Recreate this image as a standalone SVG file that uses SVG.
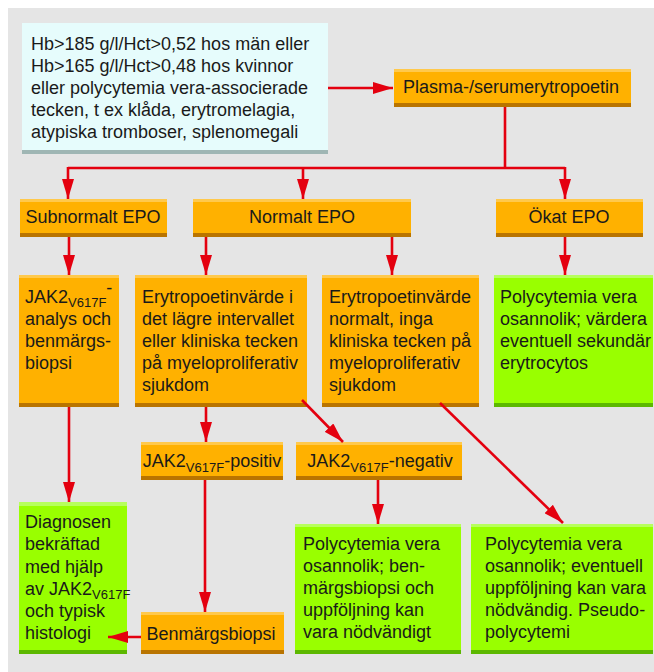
<svg xmlns="http://www.w3.org/2000/svg" width="654" height="672" viewBox="0 0 654 672">
<defs>
<style>
text{font-family:"Liberation Sans",Arial,sans-serif;font-size:18px;fill:#1a1a1a}
.c{text-anchor:middle}
.sub{font-size:13px}
.o{fill:#ffb100}.ot{fill:#ffc94c}.ob{fill:#b97400}
.g{fill:#99ff00}.gt{fill:#b6ff5c}.gb{fill:#5cb800}
.w{fill:#e6fcfc}.wb{fill:#9fb6b4}
.ln{stroke:#e4000f;stroke-width:2.6;fill:none}
.ar{marker-end:url(#ah)}
</style>
<marker id="ah" markerUnits="userSpaceOnUse" markerWidth="20" markerHeight="12" refX="20" refY="6" orient="auto">
<path d="M0,0 L20,6 L0,12 z" fill="#e4000f"/>
</marker>
</defs>
<rect x="0" y="0" width="654" height="672" fill="#ffffff"/>
<rect x="8" y="8" width="646" height="664" fill="#e5e5e5"/>

<g id="n-criteria">
<rect class="w" x="22" y="23" width="306" height="131"/>
<rect class="wb" x="22" y="150" width="306" height="4"/>
<text x="31" y="50">Hb&gt;185 g/l/Hct&gt;0,52 hos män eller</text>
<text x="31" y="72">Hb&gt;165 g/l/Hct&gt;0,48 hos kvinnor</text>
<text x="31" y="94">eller polycytemia vera-associerade</text>
<text x="31" y="116">tecken, t ex klåda, erytromelagia,</text>
<text x="31" y="138">atypiska tromboser, splenomegali</text>
</g>

<g id="n-plasma">
<rect class="o" x="394" y="69" width="237" height="38"/>
<rect class="ot" x="394" y="69" width="237" height="3"/>
<rect class="ob" x="394" y="103" width="237" height="4"/>
<text class="c" x="511" y="93">Plasma-/serumerytropoetin</text>
</g>

<g id="n-subnormalt">
<rect class="o" x="20" y="199" width="147" height="38"/>
<rect class="ot" x="20" y="199" width="147" height="3"/>
<rect class="ob" x="20" y="233" width="147" height="4"/>
<text class="c" x="93" y="223">Subnormalt EPO</text>
</g>

<g id="n-normalt">
<rect class="o" x="193" y="199" width="218" height="38"/>
<rect class="ot" x="193" y="199" width="218" height="3"/>
<rect class="ob" x="193" y="233" width="218" height="4"/>
<text class="c" x="302" y="223">Normalt EPO</text>
</g>

<g id="n-okat">
<rect class="o" x="496" y="199" width="147" height="38"/>
<rect class="ot" x="496" y="199" width="147" height="3"/>
<rect class="ob" x="496" y="233" width="147" height="4"/>
<text class="c" x="569" y="223">Ökat EPO</text>
</g>

<g id="n-jak2analys">
<rect class="o" x="19" y="275" width="100" height="132"/>
<rect class="ot" x="19" y="275" width="100" height="3"/>
<rect class="ob" x="19" y="403" width="100" height="4"/>
<text x="25" y="303">JAK2<tspan class="sub" dy="4">V617F</tspan><tspan dy="-13">-</tspan></text>
<text x="25" y="325">analys och</text>
<text x="25" y="347">benmärgs-</text>
<text x="25" y="369">biopsi</text>
</g>

<g id="n-lagre">
<rect class="o" x="135" y="275" width="172" height="132"/>
<rect class="ot" x="135" y="275" width="172" height="3"/>
<rect class="ob" x="135" y="403" width="172" height="4"/>
<text x="142" y="303">Erytropoetinvärde i</text>
<text x="142" y="325">det lägre intervallet</text>
<text x="142" y="347">eller kliniska tecken</text>
<text x="142" y="369">på myeloproliferativ</text>
<text x="142" y="391">sjukdom</text>
</g>

<g id="n-normalt-inga">
<rect class="o" x="322" y="275" width="157" height="132"/>
<rect class="ot" x="322" y="275" width="157" height="3"/>
<rect class="ob" x="322" y="403" width="157" height="4"/>
<text x="329" y="303">Erytropoetinvärde</text>
<text x="329" y="325">normalt, inga</text>
<text x="329" y="347">kliniska tecken på</text>
<text x="329" y="369">myeloproliferativ</text>
<text x="329" y="391">sjukdom</text>
</g>

<g id="n-sekundar">
<rect class="g" x="494" y="275" width="159" height="132"/>
<rect class="gt" x="494" y="275" width="159" height="3"/>
<rect class="gb" x="494" y="403" width="159" height="4"/>
<text x="500" y="303">Polycytemia vera</text>
<text x="500" y="325">osannolik; värdera</text>
<text x="500" y="347">eventuell sekundär</text>
<text x="500" y="369">erytrocytos</text>
</g>

<g id="n-positiv">
<rect class="o" x="141" y="442" width="142" height="38"/>
<rect class="ot" x="141" y="442" width="142" height="3"/>
<rect class="ob" x="141" y="476" width="142" height="4"/>
<text class="c" x="212" y="467">JAK2<tspan class="sub" dy="5">V617F</tspan><tspan dy="-5">-positiv</tspan></text>
</g>

<g id="n-negativ">
<rect class="o" x="296" y="442" width="166" height="38"/>
<rect class="ot" x="296" y="442" width="166" height="3"/>
<rect class="ob" x="296" y="476" width="166" height="4"/>
<text class="c" x="380" y="467">JAK2<tspan class="sub" dy="5">V617F</tspan><tspan dy="-5">-negativ</tspan></text>
</g>

<g id="n-diagnosen">
<rect class="g" x="19" y="502" width="108" height="152"/>
<rect class="gt" x="19" y="502" width="108" height="4"/>
<rect class="gb" x="19" y="650" width="108" height="4"/>
<text x="25" y="528">Diagnosen</text>
<text x="25" y="550">bekräftad</text>
<text x="25" y="573">med hjälp</text>
<text x="25" y="595">av JAK2<tspan class="sub" dy="4">V617F</tspan></text>
<text x="25" y="617">och typisk</text>
<text x="25" y="639">histologi</text>
</g>

<g id="n-benmargsbiopsi">
<rect class="o" x="141" y="612" width="143" height="42"/>
<rect class="ot" x="141" y="612" width="143" height="3"/>
<rect class="ob" x="141" y="650" width="143" height="4"/>
<text class="c" x="211" y="640">Benmärgsbiopsi</text>
</g>

<g id="n-benmarg-uppf">
<rect class="g" x="295" y="524" width="166" height="130"/>
<rect class="gt" x="295" y="524" width="166" height="3"/>
<rect class="gb" x="295" y="650" width="166" height="4"/>
<text x="303" y="550">Polycytemia vera</text>
<text x="303" y="572">osannolik; ben-</text>
<text x="303" y="594">märgsbiopsi och</text>
<text x="303" y="616">uppföljning kan</text>
<text x="303" y="638">vara nödvändigt</text>
</g>

<g id="n-pseudo">
<rect class="g" x="471" y="524" width="182" height="130"/>
<rect class="gt" x="471" y="524" width="182" height="3"/>
<rect class="gb" x="471" y="650" width="182" height="4"/>
<text x="485" y="550">Polycytemia vera</text>
<text x="485" y="572">osannolik; eventuell</text>
<text x="485" y="594">uppföljning kan vara</text>
<text x="485" y="616">nödvändig. Pseudo-</text>
<text x="485" y="638">polycytemi</text>
</g>

<g id="connectors">
<line class="ln ar" x1="328" y1="88" x2="393" y2="88"/>
<polyline class="ln" points="505,107 505,168"/>
<polyline class="ln" points="68,168 565,168"/>
<line class="ln ar" x1="68" y1="167" x2="68" y2="199"/>
<line class="ln ar" x1="303" y1="167" x2="303" y2="199"/>
<line class="ln ar" x1="565" y1="167" x2="565" y2="199"/>
<line class="ln ar" x1="69" y1="237" x2="69" y2="275"/>
<line class="ln ar" x1="206" y1="237" x2="206" y2="275"/>
<line class="ln ar" x1="392" y1="237" x2="392" y2="275"/>
<line class="ln ar" x1="565" y1="237" x2="565" y2="275"/>
<line class="ln ar" x1="69" y1="407" x2="69" y2="502"/>
<line class="ln ar" x1="206" y1="407" x2="206" y2="442"/>
<line class="ln ar" x1="302" y1="400" x2="343" y2="442"/>
<line class="ln ar" x1="440" y1="403" x2="563" y2="523"/>
<line class="ln ar" x1="205" y1="480" x2="205" y2="612"/>
<line class="ln ar" x1="378" y1="480" x2="378" y2="524"/>
<line class="ln ar" x1="141" y1="637" x2="108" y2="637"/>
</g>
</svg>
